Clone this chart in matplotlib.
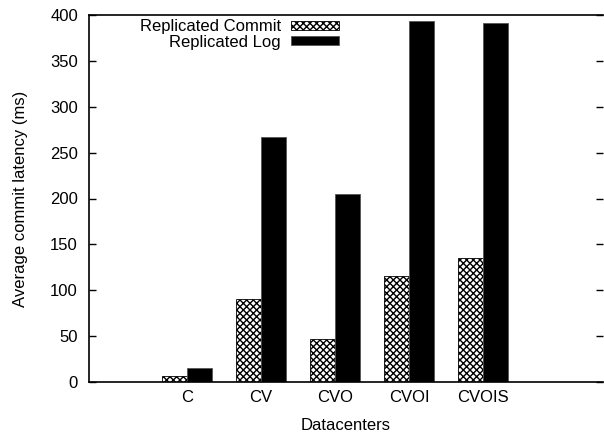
import matplotlib
matplotlib.use("Agg")
import matplotlib.pyplot as plt
import numpy as np

plt.rcParams['font.family'] = ['Liberation Sans', 'DejaVu Sans']
plt.rcParams['hatch.linewidth'] = 1.0

# data
datacenters = ["C", "CV", "CVO", "CVOI", "CVOIS"]
replicated_commit = [6, 90, 47, 115, 135]
replicated_log = [15, 267, 205, 393, 391]

fig = plt.figure(figsize=(6.04, 4.34), dpi=100)
ax = fig.add_axes([89/604, 1-382/434, 514/604, 367/434])

x = np.arange(len(datacenters))
w = 0.335
ax.bar(x - w/2, replicated_commit, w, facecolor="white", edgecolor="black",
       hatch="xxxxx", linewidth=0.6, label="Replicated Commit")
ax.bar(x + w/2, replicated_log, w, facecolor="black", edgecolor="#555555",
       linewidth=0.6, label="Replicated Log")

ax.set_xlim(-1.32, 5.62)
ax.set_ylim(0, 400)
ax.set_yticks(np.arange(0, 401, 50))
ax.set_xticks(x)
ax.set_xticklabels(datacenters)

ax.tick_params(axis="y", direction="in", length=5, width=1, right=True, pad=8, labelsize=12)
ax.tick_params(axis="x", length=0, pad=6, labelsize=12)
ax.spines["right"].set_visible(False)
for s in ["left", "top", "bottom"]:
    ax.spines[s].set_linewidth(1.2)

ax.set_xlabel("Datacenters", fontsize=12, labelpad=9)
ax.set_ylabel("Average commit latency (ms)", fontsize=12, labelpad=16)

leg = ax.legend(loc="upper right", bbox_to_anchor=(339/604, 1-19/434),
                bbox_transform=fig.transFigure, frameon=False, markerfirst=False,
                fontsize=12, handlelength=2.9, handleheight=0.45, labelspacing=0.05,
                handletextpad=0.6, borderpad=0, borderaxespad=0)
for t in leg.get_texts():
    t.set_ha("right")

fig.savefig("out.png", dpi=100)
